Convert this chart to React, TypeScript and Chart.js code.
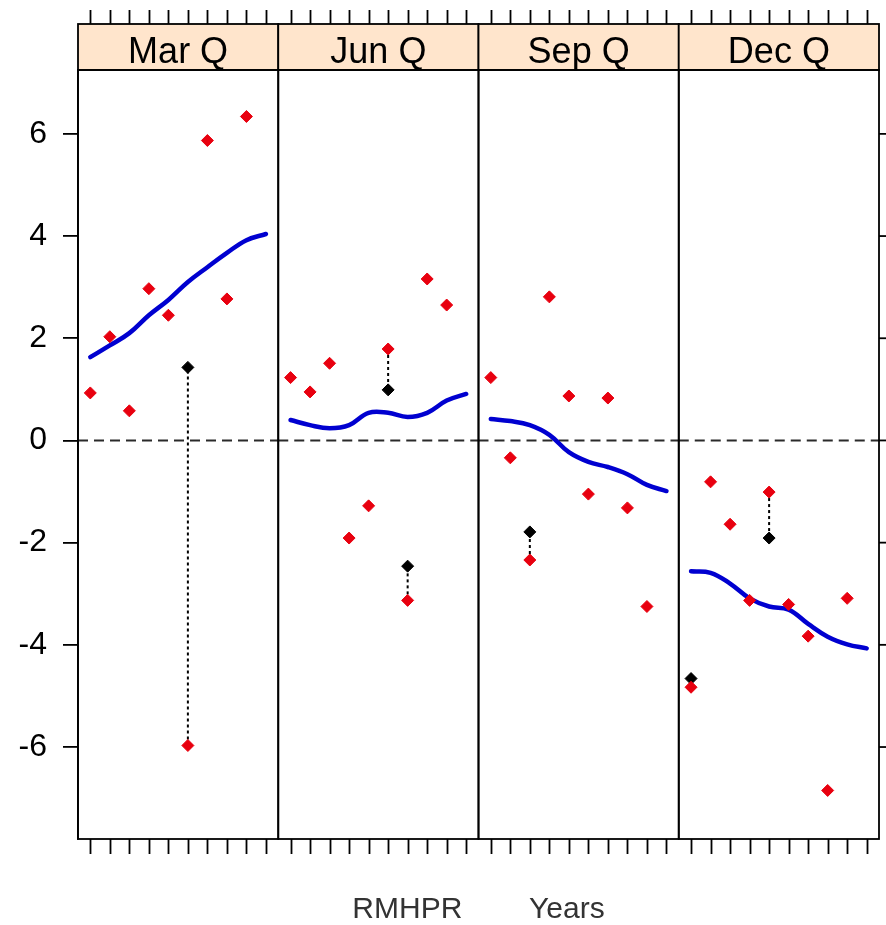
import { useEffect, useRef } from 'react';
import { Chart, registerables } from 'chart.js';

Chart.register(...registerables);

// Panel names (quarters) and the yearly positions inside every panel
const quarters = ['Mar Q', 'Jun Q', 'Sep Q', 'Dec Q'];
const years = [1, 2, 3, 4, 5, 6, 7, 8, 9, 10];
const yTicks = [-6, -4, -2, 0, 2, 4, 6];

// Observed values, years 1–9
const marObs = [0.93, 2.03, 0.58, 2.97, 2.45, -5.97, 5.87, 2.77, 6.34];
const junObs = [1.23, 0.95, 1.51, -1.91, -1.28, 1.79, -3.13, 3.16, 2.65];
const sepObs = [1.23, -0.34, -2.34, 2.81, 0.87, -1.05, 0.83, -1.32, -3.25];
const decObs = [-4.83, -0.81, -1.64, -3.13, -1.01, -3.21, -3.83, -6.85, -3.09];

// Adjusted values [year, value], joined to the observed value by a dotted line
const marAdj: [number, number][] = [[6, 1.43]];
const junAdj: [number, number][] = [[6, 0.99], [7, -2.46]];
const sepAdj: [number, number][] = [[3, -1.79]];
const decAdj: [number, number][] = [[1, -4.66], [5, -1.91]];

// Smoothed trend, years 1–10
const marTrend = [1.63, 1.86, 2.1, 2.45, 2.75, 3.1, 3.39, 3.67, 3.92, 4.04];
const junTrend = [0.4, 0.3, 0.24, 0.3, 0.54, 0.54, 0.46, 0.54, 0.78, 0.91];
const sepTrend = [0.42, 0.38, 0.3, 0.11, -0.23, -0.42, -0.52, -0.66, -0.87, -0.99];
const decTrend = [-2.56, -2.59, -2.8, -3.09, -3.25, -3.31, -3.59, -3.84, -3.99, -4.07];

// Axis limits
const X_LO = 0.37;
const X_HI = 10.63;
const Y_MIN = -7.8;
const Y_MAX = 7.25;

const SPAN = X_HI - X_LO;
const gx = (panel: number, year: number) => panel * SPAN + (year - X_LO);

const RED = '#e8000f';
const BLUE = '#0000d0';
const FONT = "'Liberation Sans', Arial, sans-serif";

const panels = [
  { obs: marObs, adj: marAdj, trend: marTrend },
  { obs: junObs, adj: junAdj, trend: junTrend },
  { obs: sepObs, adj: sepAdj, trend: sepTrend },
  { obs: decObs, adj: decAdj, trend: decTrend },
];

function buildDatasets() {
  const ds: any[] = [];
  panels.forEach((p, i) => {
    ds.push({
      data: p.obs.map((v, k) => ({ x: gx(i, years[k]), y: v })),
      showLine: false,
      pointStyle: 'rectRot',
      pointRadius: 6,
      borderWidth: 1,
      backgroundColor: RED,
      borderColor: RED,
      order: 0,
    });
    ds.push({
      data: p.adj.map(([yr, v]) => ({ x: gx(i, yr), y: v })),
      showLine: false,
      pointStyle: 'rectRot',
      pointRadius: 6,
      borderWidth: 1,
      backgroundColor: '#000',
      borderColor: '#000',
      order: 1,
    });
    p.adj.forEach(([yr, v]) => {
      ds.push({
        data: [
          { x: gx(i, yr), y: p.obs[yr - 1] },
          { x: gx(i, yr), y: v },
        ],
        showLine: true,
        borderColor: '#000',
        borderWidth: 2,
        borderDash: [3, 3],
        pointRadius: 0,
        order: 2,
      });
    });
    ds.push({
      data: p.trend.map((v, k) => ({ x: gx(i, years[k]), y: v })),
      showLine: true,
      tension: 0.4,
      borderColor: BLUE,
      borderWidth: 4.5,
      borderCapStyle: 'round',
      pointRadius: 0,
      order: 3,
    });
    ds.push({
      data: [
        { x: i * SPAN, y: 0 },
        { x: (i + 1) * SPAN, y: 0 },
      ],
      showLine: true,
      borderColor: '#2a2a2a',
      borderWidth: 2,
      borderDash: [10, 6],
      pointRadius: 0,
      order: 4,
    });
  });
  return ds;
}

// Strips, panel frames, tick marks and the axis caption
const latticePlugin = {
  id: 'lattice',
  afterDraw(chart: any) {
    const { ctx, chartArea: a, scales } = chart;
    const x = scales.x;
    const y = scales.y;
    const stripTop = a.top - 46;
    ctx.save();
    ctx.lineWidth = 1.8;
    ctx.strokeStyle = '#000';

    quarters.forEach((q, i) => {
      const l = x.getPixelForValue(i * SPAN);
      const r = x.getPixelForValue((i + 1) * SPAN);
      ctx.fillStyle = '#ffe5cc';
      ctx.fillRect(l, stripTop, r - l, a.top - stripTop);
      ctx.strokeRect(l, stripTop, r - l, a.top - stripTop);
      ctx.strokeRect(l, a.top, r - l, a.bottom - a.top);
      ctx.fillStyle = '#000';
      ctx.font = `36px ${FONT}`;
      ctx.textAlign = 'center';
      ctx.textBaseline = 'alphabetic';
      ctx.fillText(q, (l + r) / 2, stripTop + 39);

      years.forEach((yr) => {
        const px = Math.round(x.getPixelForValue(gx(i, yr))) + 0.5;
        ctx.beginPath();
        ctx.moveTo(px, stripTop - 14);
        ctx.lineTo(px, stripTop);
        ctx.moveTo(px, a.bottom);
        ctx.lineTo(px, a.bottom + 15);
        ctx.stroke();
      });
    });

    yTicks.forEach((v) => {
      const py = y.getPixelForValue(v);
      ctx.beginPath();
      ctx.moveTo(a.right, py);
      ctx.lineTo(a.right + 15, py);
      ctx.stroke();
    });

    ctx.fillStyle = '#333';
    ctx.font = `30px ${FONT}`;
    ctx.textAlign = 'center';
    ctx.fillText('RMHPR        Years', (a.left + a.right) / 2, a.bottom + 79);
    ctx.restore();
  },
};

export default function App() {
  const ref = useRef<HTMLCanvasElement>(null);

  useEffect(() => {
    if (!ref.current) return;
    const chart = new Chart(ref.current, {
      type: 'scatter',
      data: { datasets: buildDatasets() },
      options: {
        animation: false,
        responsive: false,
        devicePixelRatio: 1,
        events: [],
        layout: { padding: { top: 70, right: 7, bottom: 86, left: 0 } },
        plugins: { legend: { display: false }, tooltip: { enabled: false } },
        scales: {
          x: { type: 'linear', min: 0, max: 4 * SPAN, display: false },
          y: {
            type: 'linear',
            position: 'left',
            min: Y_MIN,
            max: Y_MAX,
            afterBuildTicks: (s: any) => {
              s.ticks = yTicks.map((v) => ({ value: v }));
            },
            afterFit: (s: any) => {
              s.width = 78;
            },
            grid: { drawOnChartArea: false, drawTicks: true, tickLength: 15, color: '#000', lineWidth: 1.8 },
            border: { display: true, color: '#000', width: 1.8 },
            ticks: { font: { family: FONT, size: 32 }, color: '#000', padding: 16 },
          },
        },
      },
      plugins: [latticePlugin],
    });
    return () => chart.destroy();
  }, []);

  return (
    <div style={{ position: 'fixed', left: 0, top: 0, width: 886, height: 925, background: '#fff' }}>
      <canvas ref={ref} width={886} height={925} />
    </div>
  );
}
